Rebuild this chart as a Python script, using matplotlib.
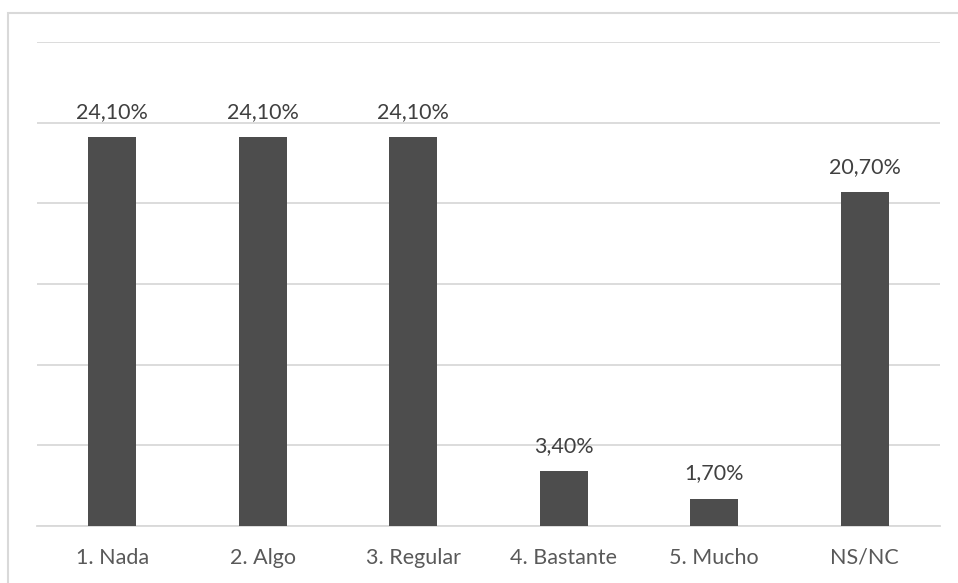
import matplotlib.pyplot as plt
from matplotlib.patches import Rectangle

categories = ['1. Nada', '2. Algo', '3. Regular', '4. Bastante', '5. Mucho', 'NS/NC']
values = [24.1, 24.1, 24.1, 3.4, 1.7, 20.7]
labels = ['24,10%', '24,10%', '24,10%', '3,40%', '1,70%', '20,70%']

plt.rcParams['font.family'] = ['Lato', 'DejaVu Sans']

fig = plt.figure(figsize=(9.58, 5.83), dpi=100)
ax = fig.add_axes([0.0386, 0.0978, 0.9426, 0.830])

# chart frame (cropped on right and bottom)
fig.patches.append(Rectangle((8 / 958, -0.1), 1.2, 0.1 + 1 - 13 / 583,
                             transform=fig.transFigure, fill=False,
                             edgecolor='#d9d9d9', linewidth=1.5))

bars = ax.bar(range(len(categories)), values, width=0.32, color='#4d4d4d', zorder=3)

for bar, lab in zip(bars, labels):
    ax.annotate(lab, (bar.get_x() + bar.get_width() / 2, bar.get_height()),
                xytext=(0, 11), textcoords='offset points', ha='center', va='bottom',
                fontsize=15.5, color='#404040')

ax.set_xlim(-0.5, 5.5)
ax.set_ylim(0, 30)
ax.set_yticks(range(0, 31, 5))
ax.yaxis.grid(True, color='#d9d9d9', linewidth=1.3, zorder=0)
ax.tick_params(axis='y', left=False, labelleft=False)
ax.tick_params(axis='x', bottom=False, labelsize=15.5, labelcolor='#595959', pad=12)
ax.set_xticks(range(len(categories)))
ax.set_xticklabels(categories)
for side in ['top', 'right', 'left']:
    ax.spines[side].set_visible(False)
ax.spines['bottom'].set_color('#d9d9d9')
ax.spines['bottom'].set_linewidth(1.3)

fig.savefig('out.png', dpi=100)
